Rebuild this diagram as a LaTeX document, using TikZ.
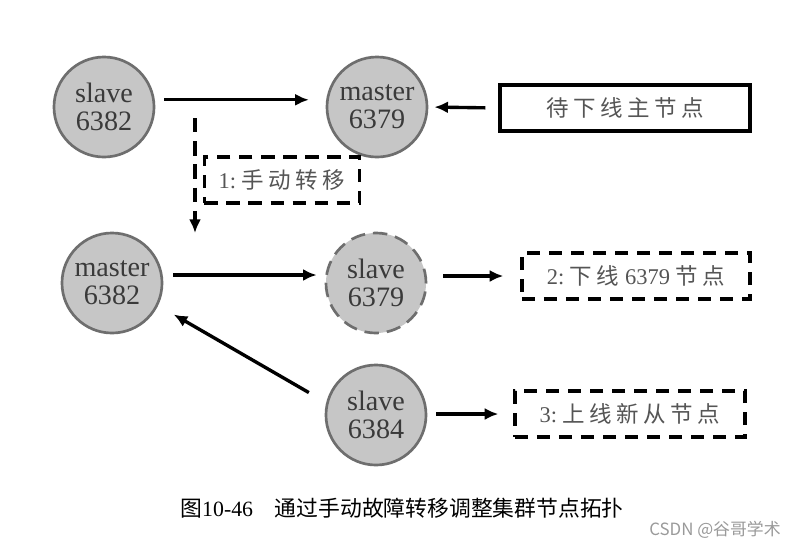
\documentclass[tikz,border=0pt]{standalone}
\usepackage{fontspec}
\setmainfont{Liberation Serif}
\newfontfamily\cjk[LetterSpace=20]{Noto Sans CJK SC}
\newfontfamily\cjkplain{Noto Sans CJK SC}
\usetikzlibrary{arrows.meta,positioning}
\definecolor{nodefill}{HTML}{C6C6C6}
\definecolor{nodeline}{HTML}{6E6E6E}
\definecolor{nodeink}{HTML}{3A3A3A}
\definecolor{noteink}{HTML}{555555}
\definecolor{markgray}{HTML}{9A9A9A}

\begin{document}
\begin{tikzpicture}[x=0.025cm,y=-0.025cm,>={Latex[length=3.4mm,width=3mm]},
  redis/.style={circle,draw=nodeline,fill=nodefill,line width=1.9pt,minimum size=2.5cm,
    inner sep=0pt,align=center,text=nodeink,font=\fontsize{20}{20}\selectfont},
  offnode/.style={dash pattern=on 3.6mm off 2mm},
  note/.style={draw=black,line width=2.6pt,minimum height=1.15cm,inner sep=0pt,
    text=noteink,font=\fontsize{16}{18}\selectfont},
  dashnote/.style={note,dash pattern=on 3.3mm off 2.2mm},
  link/.style={->,line width=2.4pt}]
\path[use as bounding box] (0,0) rectangle (800,547);
\fill[white] (0,0) rectangle (800,547);

% 节点（坐标按像素，1px = 0.025cm）
\node[redis] (s6382) at (104,107) {slave\\6382};
\node[redis] (m6379) at (377,107) {master\\6379};
\node[redis] (m6382) at (112,283) {master\\6382};
\node[redis,offnode] (s6379) at (376,283) {slave\\6379};
\node[redis] (s6384) at (376,415) {slave\\6384};

% 说明框
\node[note,minimum width=6.25cm] (offline) at (625,108) {\cjk 待下线主节点};
\node[dashnote,minimum width=3.875cm] (step1) at (282,180) {1:\ {\cjk 手动转移}};
\node[dashnote,minimum width=5.7cm] (step2) at (636,276) {2:\ {\cjk 下线}\ 6379\ {\cjk 节点}};
\node[dashnote,minimum width=5.75cm] (step3) at (630,414) {3:\ {\cjk 上线新从节点}};

\coordinate (failtop) at (195,118);
\coordinate (failend) at (195,233);

% 连线
\draw[link,shorten <=0.22cm,shorten >=0.42cm] ([yshift=0.18cm]s6382.east) -- ([yshift=0.18cm]m6379.west);
\draw[link,shorten <=0.32cm,shorten >=0.15cm] (offline.west) -- (m6379.east);
\draw[link,dash pattern=on 3.6mm off 2.2mm] (failtop) -- (failend);
\draw[link,shorten <=0.25cm,shorten >=0.2cm] ([yshift=0.2cm]m6382.east) -- ([yshift=0.2cm]s6379.west);
\draw[link,shorten <=0.5cm,shorten >=0.45cm] (s6384.166) -- (m6382.-26);
\draw[link,shorten <=0.4cm,shorten >=0.42cm] (s6379.east |- step2.west) -- (step2.west);
\draw[link,shorten <=0.22cm,shorten >=0.37cm] (s6384.east |- step3.west) -- (step3.west);

% 图题
\node[font=\fontsize{15.5}{18}\selectfont] (caption) at (402,508) {{\cjkplain 图}10-46\quad{\cjkplain 通过手动故障转移调整集群节点拓扑}};
\node[text=markgray,font=\cjkplain\fontsize{12}{14}\selectfont] (mark) at (715,530) {CSDN @谷哥学术};
\end{tikzpicture}
\end{document}
